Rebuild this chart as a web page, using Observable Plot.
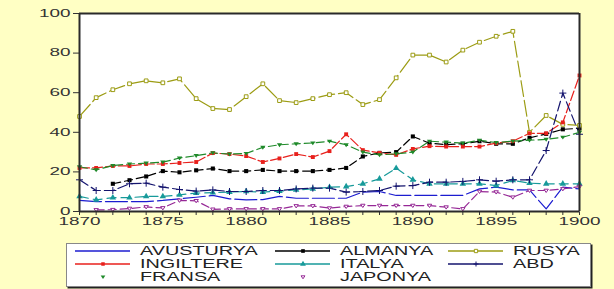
<!DOCTYPE html>
<html><head><meta charset="utf-8">
<script src="https://cdn.jsdelivr.net/npm/d3@7"></script>
<script src="https://cdn.jsdelivr.net/npm/@observablehq/plot@0.6"></script>
<style>
html,body{margin:0;padding:0;background:#FFFFC4;}
#wrap{position:relative;width:614px;height:289px;overflow:hidden;background:#FFFFC4;}
#chart{position:absolute;left:0;top:0;}
#legend{position:absolute;left:66px;top:243px;}
</style>
</head><body>
<div id="wrap"><div id="chart"></div><div id="legend"></div></div>
<script>
const years = d3.range(1870, 1901);
const avusturya = [5.6,5,5,5,5,5.6,6.4,7.2,8.1,6.4,5.9,6,7.6,6.7,6.7,6.7,6.7,9.8,10.1,8.1,8.1,8.1,8.1,8.1,11.4,12.3,10.9,10.9,1.3,12.3,11.4];
const almanya = [null,null,14,15.8,17.7,20.4,19.8,20.8,21.7,20.4,20.4,21,20.4,20.4,20.4,21,22,27.8,29.6,30,37.9,34.5,33.8,34.2,35.5,34.2,34.2,37.2,39.2,41.5,42];
const rusya = [48,57.5,61.5,64.5,66,65,67,57,52,51.5,58,64.5,56,55,57,59,60,54,56.5,67.5,79,79,75.5,81.5,85.5,88.5,91,40,48.5,44,43.5];
const ingiltere = [22,22,23,23,24,24,24.5,25,29.5,29,28,25,26.8,29,27.5,30.5,39,31,29.6,28.6,31.6,33,32.8,32.8,32.8,34.5,35.5,39.5,39.5,45,68.7];
const italya = [7.6,5.9,7,7,7.6,7.6,8.4,9.3,9.5,9.8,10.1,9.8,10.3,10.9,11.4,12.3,12.6,14,16.5,21.9,16,14,14,14,14,13.1,15.7,14.3,14,14,14];
const abd = [16,10.6,10.6,14,14.3,12.3,11.1,10.3,10.9,10.1,10.1,10.6,10.6,11.4,11.8,11.8,9.8,10.1,10.6,12.8,13.1,14.8,14.8,15.2,16,15.3,16,16,30.8,59.8,39];
const fransa = [22.6,21,23.2,24,24.4,24.9,27,28.2,29.6,29,29.3,32.4,33.7,34.2,34.6,35.5,33.7,30,28.6,29.1,30,35.5,35,34.5,36,34.8,35.5,36,36.4,37.5,40];
const japonya = [null,0.8,0.9,1.5,2.3,1.8,5.6,5.4,1.1,1.3,1.3,1.3,1.3,2.8,2.8,1.7,2.5,3,3,3,3,3,2.2,1.3,10.1,9.8,7.2,10.6,10.6,11.4,12.6];
const yTicks = [0,20,40,60,80,100];
const xDomain = [1870, 1900];

const triDown = {draw(ctx, size){const s=Math.sqrt(size)*0.62; ctx.moveTo(-s,-s*0.6); ctx.lineTo(s,-s*0.6); ctx.lineTo(0,s*0.9); ctx.closePath();}};

const series = [
  {name:"AVUSTURYA", values:avusturya, color:"#1c1cd0", dash:"22,4", sym:null},
  {name:"ALMANYA", values:almanya, color:"#000000", dash:"8,4", sym:"square", fill:"#000", stroke:"none", r:2.3},
  {name:"RUSYA", values:rusya, color:"#9c9c14", dash:"16,4", sym:"square", fill:"#fff", stroke:"#9c9c14", r:2.1},
  {name:"INGILTERE", values:ingiltere, color:"#e8201c", dash:"10,3", sym:"square", fill:"#e8201c", stroke:"none", r:2.2},
  {name:"ITALYA", values:italya, color:"#179a9a", dash:"9,5", sym:"triangle", fill:"#179a9a", stroke:"none", r:2.4},
  {name:"ABD", values:abd, color:"#14146e", dash:"10,4", sym:"plus", fill:"none", stroke:"#14146e", r:2.4},
  {name:"FRANSA", values:fransa, color:"#1f8a2a", dash:"8,4", sym:triDown, fill:"#1f8a2a", stroke:"none", r:2.4},
  {name:"JAPONYA", values:japonya, color:"#962896", dash:"8,4", sym:triDown, fill:"#fff", stroke:"#962896", r:2.0}
];
const rows = s => years.map((year,i)=>({year, value:s.values[i]})).filter(d=>d.value!=null);

const marks = [Plot.frame({fill:"white", stroke:null})];
for (const s of series) {
  marks.push(Plot.line(rows(s), {x:"year", y:"value", stroke:s.color, strokeWidth:1.2, strokeDasharray:s.dash}));
}
for (const s of series) {
  if (s.sym) marks.push(Plot.dot(rows(s), {x:"year", y:"value", symbol:s.sym, r:s.r, fill:s.fill, stroke:s.stroke, strokeWidth:1}));
}
const hEdges = [{y:0},{y:100}], vEdges = [{x:xDomain[0]},{x:xDomain[1]}];
marks.push(Plot.ruleY(hEdges, {y:"y", x1:xDomain[0], x2:xDomain[1], stroke:"#2a2a2a", strokeWidth:2}));
marks.push(Plot.ruleX(vEdges, {x:"x", y1:0, y2:100, stroke:"#2a2a2a", strokeWidth:2}));

const svg = Plot.plot({
  width:614, height:232, marginTop:13, marginBottom:21, marginLeft:79, marginRight:35,
  style:{background:"transparent", fontFamily:"'Liberation Sans', Arial, sans-serif", fontSize:"10.5px", color:"#333", overflow:"visible"},
  x:{domain:xDomain, ticks:30, tickSize:4, tickPadding:2, tickFormat:d => d%5===0 ? String(d) : "", label:null},
  y:{domain:[0,100], ticks:yTicks, tickSize:6, tickPadding:3, label:null},
  marks
});
document.getElementById("chart").appendChild(svg);
function stretch(t, s){
  const L = t.getComputedTextLength();
  if (L > 0) { t.setAttribute("textLength", (L*s).toFixed(2)); t.setAttribute("lengthAdjust","spacingAndGlyphs"); }
}
svg.querySelectorAll('g[aria-label^="x-axis"] text, g[aria-label^="y-axis"] text').forEach(t=>stretch(t,1.8));

// legend
const LW = 525, LH = 44;
const lg = d3.select("#legend").append("svg").attr("width", LW+3).attr("height", LH+3);
lg.append("rect").attr("x",1.5).attr("y",1.5).attr("width",LW).attr("height",LH).attr("fill","#222");
lg.append("rect").attr("x",0.5).attr("y",0.5).attr("width",LW-1).attr("height",LH-1).attr("fill","#fff").attr("stroke","#888");
const cols = [9, 209, 382], rowsY = [8, 21, 34];
const layout = [[0,0],[1,0],[2,0],[0,1],[1,1],[2,1],[0,2],[1,2]];
series.forEach((s,i)=>{
  const [c,r] = layout[i];
  const x0 = cols[c], y0 = rowsY[r];
  const g = lg.append("g");
  const lineless = s.name==="FRANSA" || s.name==="JAPONYA";
  if (!lineless) g.append("line").attr("x1",x0).attr("x2",x0+55).attr("y1",y0).attr("y2",y0).attr("stroke",s.color).attr("stroke-width",1.3);
  if (s.sym === "plus") {
    g.append("path").attr("d",`M${x0+25.5},${y0}h5M${x0+28},${y0-2.5}v5`).attr("stroke",s.color).attr("stroke-width",1);
  } else if (s.sym) {
    const sym = typeof s.sym === "string" ? {square:d3.symbolSquare, triangle:d3.symbolTriangle}[s.sym] : s.sym;
    const path = d3.symbol(sym, s.r*s.r*Math.PI*0.8)();
    g.append("path").attr("d", path).attr("transform",`translate(${x0+28},${y0})`)
      .attr("fill", s.fill).attr("stroke", s.stroke).attr("stroke-width",1);
  }
  const t = g.append("text").attr("x", x0+65).attr("y", y0).attr("dy","0.36em")
    .attr("font-family","'Liberation Sans', Arial, sans-serif").attr("font-size","12px").attr("fill","#222").text(s.name);
  stretch(t.node(), 1.65);
});
</script>
</body></html>
